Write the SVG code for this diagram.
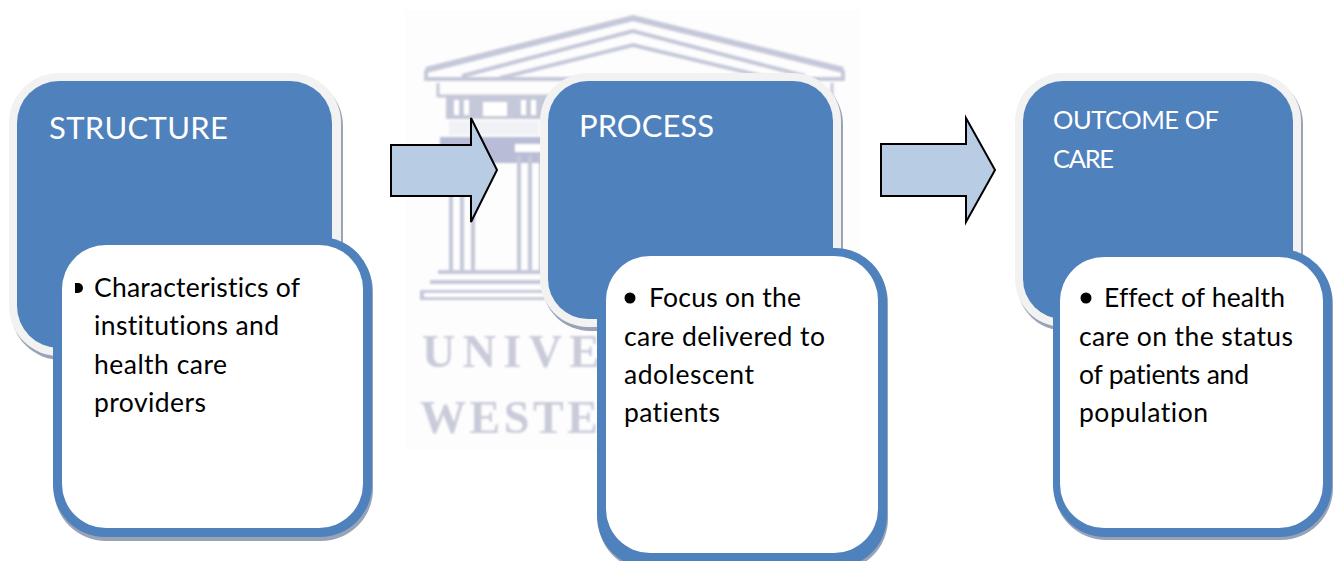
<svg xmlns="http://www.w3.org/2000/svg" width="1339" height="561" viewBox="0 0 1339 561">
<defs><filter id="soft" x="-5%" y="-5%" width="110%" height="110%"><feGaussianBlur stdDeviation="0.9"/></filter></defs>
<style>
.shadow{fill:#98a4b6}
.rim{fill:#f2f2f2}
.blue{fill:#4f81bd}
.white{fill:#fff}
text{font-variant-ligatures:none}
.title{font-family:"Lato","Liberation Sans",sans-serif;fill:#fff}
.body{font-family:"Lato","Liberation Sans",sans-serif;font-size:26.5px;fill:#000}
.arrow{fill:#b8cce4;stroke:#000;stroke-width:2}
.wl{fill:none;stroke:#c5c8d8}
.wf{fill:#c5c8d8}
.wt{font-family:"Liberation Serif",serif;font-weight:bold;font-size:46px;fill:#c9cbd9}
</style>
<rect width="1339" height="561" fill="#fff"/>
<rect x="405" y="10" width="455" height="440" fill="#fdfdfe"/>
<g id="watermark" filter="url(#soft)">
<polyline class="wl" stroke-width="6" points="426,70 633,18 843,70"/>
<polyline class="wl" stroke-width="4" points="462,76 633,31 805,76"/>
<polyline class="wl" stroke-width="4" points="500,78 633,45 770,78"/>
<path class="wl" stroke-width="4" d="M426,70V79H843V70"/>
<path class="wl" stroke-width="3" d="M438,83V96H832V83"/>
<rect class="wf" x="446" y="97" width="100" height="22"/>
<rect x="483" y="102" width="24" height="14" fill="#fff"/>
<rect x="454" y="100" width="5" height="15" fill="#fff"/>
<rect x="464" y="100" width="5" height="15" fill="#fff"/>
<rect x="521" y="100" width="5" height="15" fill="#fff"/>
<rect x="531" y="100" width="5" height="15" fill="#fff"/>
<rect x="449" y="121" width="90" height="14" fill="#f1f2f6"/>
<rect x="440" y="137" width="110" height="26" fill="#b9bcd6"/>
<rect x="515" y="144" width="30" height="8" fill="#fff"/>
<path class="wl" stroke-width="4" d="M451,165V270M462,165V270M473,165V270"/>
<path class="wl" stroke-width="4" d="M519,155V270M530,155V270M541,155V270"/>
<rect class="wf" x="438" y="270" width="110" height="4"/>
<rect class="wf" x="430" y="280" width="115" height="4"/>
<rect class="wf" x="420" y="290" width="125" height="10"/>
<rect x="424" y="293" width="125" height="4" fill="#fff"/>
<text class="wt" x="422" y="367" textLength="178" lengthAdjust="spacing">UNIVE</text>
<text class="wt" x="420" y="433" textLength="178" lengthAdjust="spacing">WESTE</text>
</g>
<g id="connectors">
<polygon class="arrow" points="391,145 471,145 471,118 497,170 471,222 471,196 391,196"/>
<polygon class="arrow" points="881,144 966,144 966,118 995,170 966,222 966,196 881,196"/>
</g>
<g id="structure">
<rect class="shadow" x="11" y="76" width="332" height="284" rx="50"/>
<rect class="rim" x="9" y="73" width="332" height="283" rx="50"/>
<rect class="blue" x="17" y="81" width="315" height="267" rx="42"/>
<text class="title" x="49" y="139" font-size="31" textLength="179">STRUCTURE</text>
</g>
<g id="structure-detail">
<rect class="shadow" x="54" y="240" width="319" height="301" rx="52"/>
<rect class="blue" x="53" y="237" width="319" height="300" rx="52"/>
<rect class="white" x="62" y="245" width="301" height="283" rx="44"/>
<path d="M75,283h3a5,5 0 0 1 0,10h-3z" fill="#000"/>
<text class="body"><tspan x="94" y="297" textLength="206">Characteristics of</tspan><tspan x="94" y="335" textLength="185">institutions and</tspan><tspan x="94" y="374" textLength="133">health care</tspan><tspan x="94" y="412" textLength="112">providers</tspan></text>
</g>
<g id="process">
<rect class="shadow" x="542" y="76" width="301" height="255" rx="48"/>
<rect class="rim" x="540" y="73" width="301" height="254" rx="48"/>
<rect class="blue" x="548" y="81" width="285" height="238" rx="40"/>
<text class="title" x="579" y="137" font-size="31" textLength="135">PROCESS</text>
</g>
<g id="process-detail">
<rect class="shadow" x="598" y="251" width="290" height="320" rx="52"/>
<rect class="blue" x="597" y="248" width="290" height="320" rx="52"/>
<rect class="white" x="606" y="256" width="272" height="297" rx="44"/>
<circle cx="630" cy="298" r="5.5" fill="#000"/>
<text class="body"><tspan x="649" y="307" textLength="152">Focus on the</tspan><tspan x="624" y="346" textLength="201">care delivered to</tspan><tspan x="624" y="384" textLength="130">adolescent</tspan><tspan x="624" y="422" textLength="96">patients</tspan></text>
</g>
<g id="outcome">
<rect class="shadow" x="1017" y="76" width="286" height="255" rx="48"/>
<rect class="rim" x="1015" y="73" width="286" height="254" rx="48"/>
<rect class="blue" x="1023" y="81" width="270" height="238" rx="40"/>
<text class="title" x="1053" y="129" font-size="25.5" textLength="166">OUTCOME OF</text>
<text class="title" x="1053" y="168" font-size="25.5" textLength="61">CARE</text>
</g>
<g id="outcome-detail">
<rect class="shadow" x="1054" y="252" width="279" height="288" rx="52"/>
<rect class="blue" x="1053" y="249" width="279" height="288" rx="52"/>
<rect class="white" x="1060" y="257" width="263" height="271" rx="44"/>
<circle cx="1086" cy="298" r="5.5" fill="#000"/>
<text class="body"><tspan x="1104" y="307" textLength="181">Effect of health</tspan><tspan x="1079" y="346" textLength="214">care on the status</tspan><tspan x="1079" y="384" textLength="170">of patients and</tspan><tspan x="1079" y="422" textLength="129">population</tspan></text>
</g>
</svg>
